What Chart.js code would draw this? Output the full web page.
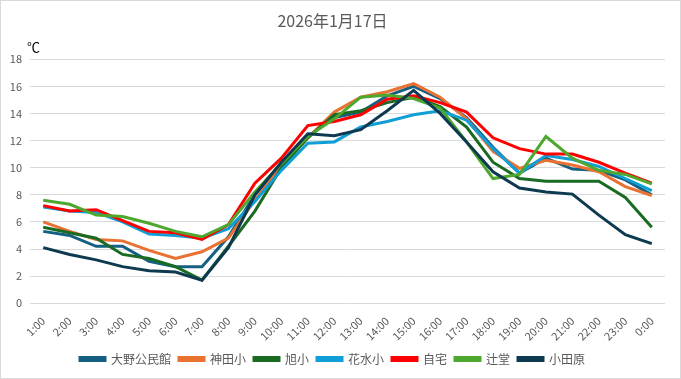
<!DOCTYPE html>
<html>
<head>
<meta charset="utf-8">
<script src="https://cdn.jsdelivr.net/npm/chart.js@4.4.1/dist/chart.umd.min.js"></script>
<style>
html,body{margin:0;padding:0;background:#fff;}
#wrap{width:681px;height:379px;position:relative;}
</style>
</head>
<body>
<div id="wrap"><canvas id="c" width="681" height="379"></canvas></div>
<script>
const titleText = "2026年1月17日";
const unitText = "℃";
const hours = ["1:00","2:00","3:00","4:00","5:00","6:00","7:00","8:00","9:00","10:00","11:00","12:00","13:00","14:00","15:00","16:00","17:00","18:00","19:00","20:00","21:00","22:00","23:00","0:00"];
const seriesNames = ["大野公民館","神田小","旭小","花水小","自宅","辻堂","小田原"];
const seriesColors = ["#156082","#E97132","#196B24","#0F9ED5","#FF0000","#4EA72E","#0E3A50"];
const oono   = [5.3,5.0,4.2,4.2,3.1,2.7,2.7,4.9,8.0,10.2,12.3,13.7,14.1,15.3,16.0,15.1,13.7,11.5,9.6,10.7,9.9,9.8,9.1,8.0];
const kanda  = [6.0,5.3,4.7,4.6,3.9,3.3,3.8,4.8,7.6,10.1,12.2,14.1,15.2,15.6,16.2,15.2,13.6,11.2,9.95,10.55,10.2,9.7,8.6,7.95];
const asahi  = [5.6,5.2,4.8,3.6,3.3,2.7,1.7,4.2,6.8,10.0,12.2,13.9,14.2,14.8,15.2,14.5,13.0,10.4,9.2,9.0,9.0,9.0,7.8,5.6];
const hanamizu = [7.1,6.8,6.7,6.0,5.1,5.0,4.8,5.5,7.5,9.8,11.8,11.9,13.0,13.4,13.9,14.2,13.5,11.4,9.6,10.9,10.6,10.1,9.2,8.3];
const jitaku = [7.2,6.8,6.9,6.1,5.3,5.2,4.7,5.8,8.85,10.7,13.1,13.4,13.9,15.05,15.3,14.8,14.1,12.2,11.4,11.0,11.0,10.4,9.6,8.85];
const tsujido = [7.6,7.3,6.5,6.4,5.9,5.3,4.9,5.8,8.2,10.3,12.3,13.6,15.2,15.35,15.1,14.4,11.9,9.2,9.5,12.3,10.7,9.8,9.5,8.8];
const odawara = [4.1,3.6,3.2,2.7,2.4,2.3,1.7,4.1,8.0,10.4,12.5,12.35,12.8,14.2,15.7,14.0,11.9,9.7,8.5,8.2,8.05,6.5,5.05,4.4];
const seriesValues = [oono,kanda,asahi,hanamizu,jitaku,tsujido,odawara];
const yTicksMin = 0, yTicksMax = 18, yStep = 2;

const FONT = "'Noto Sans CJK JP','Noto Sans',sans-serif";
const GREY = "#595959";

const datasets = seriesNames.map((n,i)=>({
  label:n,
  data:seriesValues[i],
  borderColor:seriesColors[i],
  backgroundColor:seriesColors[i],
  borderWidth:3,
  pointRadius:0,
  pointHoverRadius:0,
  tension:0,
  fill:false,
  order:seriesNames.length - i
}));

const extras = {
  id:'extras',
  beforeDraw(chart){
    const ctx = chart.ctx;
    ctx.save();
    ctx.fillStyle = '#fff';
    ctx.fillRect(0,0,chart.width,chart.height);
    ctx.strokeStyle = '#d9d9d9';
    ctx.lineWidth = 1;
    ctx.strokeRect(0.5,0.5,chart.width-1,chart.height-1);
    ctx.restore();
  },
  afterDraw(chart){
    const ctx = chart.ctx;
    ctx.save();
    ctx.fillStyle = '#000';
    ctx.font = "13px " + FONT;
    ctx.textAlign = 'left';
    ctx.textBaseline = 'middle';
    ctx.fillText(unitText, 27, 47);
    ctx.restore();
  }
};

new Chart(document.getElementById('c'), {
  type:'line',
  data:{labels:hours, datasets},
  options:{
    responsive:false,
    animation:false,
    devicePixelRatio:1,
    layout:{padding:{left:0,right:16,top:0,bottom:4}},
    plugins:{
      title:{display:true,text:titleText,color:GREY,font:{family:FONT,size:16,weight:'normal'},padding:{top:11,bottom:29}},
      legend:{
        position:'bottom',
        labels:{
          color:GREY,
          font:{family:FONT,size:12},
          boxWidth:25,
          boxHeight:3,
          padding:8,
          sort:(a,b)=>a.datasetIndex-b.datasetIndex
        }
      },
      tooltip:{enabled:false}
    },
    scales:{
      x:{
        offset:true,
        grid:{display:false},
        border:{display:false},
        ticks:{color:GREY,font:{family:FONT,size:11},minRotation:45,maxRotation:45,autoSkip:false},
        afterFit(scale){scale.height = scale.height - 1;}
      },
      y:{
        min:yTicksMin,max:yTicksMax,
        grid:{color:'#d9d9d9',lineWidth:1,drawTicks:false},
        border:{display:false},
        ticks:{stepSize:yStep,color:GREY,font:{family:FONT,size:11},padding:8},
        afterFit(scale){scale.width = 30;}
      }
    }
  },
  plugins:[extras]
});
</script>
</body>
</html>
